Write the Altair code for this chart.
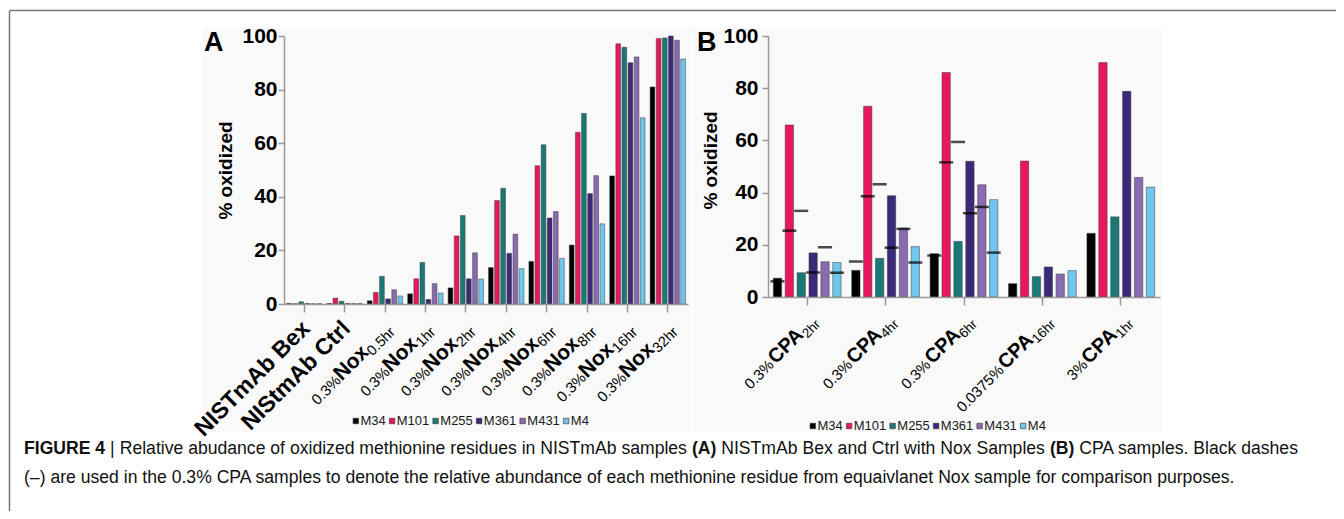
import altair as alt
import pandas as pd

FONT = "Liberation Sans"
GRAY = "#9a9a9a"

# ---------------- data ----------------
series = ["M34", "M101", "M255", "M361", "M431", "M4"]
colors = ["#000000", "#e9175e", "#1b7975", "#3b2877", "#8a6ab1", "#6fc6ef"]

# Panel A: NISTmAb Bex / Ctrl and 0.3% Nox time course
a_keys = ["Bex", "Ctrl", "Nox0.5", "Nox1", "Nox2", "Nox4", "Nox6", "Nox8", "Nox16", "Nox32"]
a_prefix = ["", "", "0.3%", "0.3%", "0.3%", "0.3%", "0.3%", "0.3%", "0.3%", "0.3%"]
a_main = ["NISTmAb Bex", "NIStmAb Ctrl", "Nox", "Nox", "Nox", "Nox", "Nox", "Nox", "Nox", "Nox"]
a_sub = ["", "", "0.5hr", "1hr", "2hr", "4hr", "6hr", "8hr", "16hr", "32hr"]
a_m34 = [0.2, 0.2, 1.2, 3.8, 6.0, 13.6, 15.9, 22.0, 47.8, 81.0]
a_m101 = [0.1, 2.2, 4.3, 9.4, 25.4, 38.6, 51.6, 64.1, 97.1, 99.1]
a_m255 = [0.8, 1.0, 10.3, 15.5, 33.0, 43.2, 59.4, 71.1, 95.8, 99.3]
a_m361 = [0.2, 0.2, 1.9, 1.7, 9.4, 18.9, 32.1, 41.2, 90.0, 100.0]
a_m431 = [0.1, 0.2, 5.3, 7.6, 19.1, 26.1, 34.5, 47.9, 92.2, 98.4]
a_m4 = [0.1, 0.2, 3.0, 4.1, 9.3, 13.2, 17.0, 29.9, 69.5, 91.4]

# Panel B: CPA samples
b_keys = ["CPA2", "CPA4", "CPA6", "CPA16", "CPA1"]
b_prefix = ["0.3%", "0.3%", "0.3%", "0.0375%", "3%"]
b_main = ["CPA", "CPA", "CPA", "CPA", "CPA"]
b_sub = ["2hr", "4hr", "6hr", "16hr", "1hr"]
b_m34 = [7.2, 10.2, 16.6, 5.1, 24.4]
b_m101 = [65.9, 73.1, 86.0, 52.1, 89.8]
b_m255 = [9.3, 14.8, 21.3, 7.8, 30.7]
b_m361 = [16.9, 38.8, 52.0, 11.5, 78.8]
b_m431 = [13.5, 26.4, 43.0, 8.8, 45.8]
b_m4 = [13.2, 19.3, 37.3, 10.1, 42.1]

# black dashes: equivalent Nox sample shown on the 0.3% CPA groups
dash_keys = ["CPA2", "CPA4", "CPA6"]
dash_src = ["Nox2", "Nox4", "Nox6"]

caption1 = [
    ("FIGURE 4", True),
    (" | ", False),
    ("Relative abudance of oxidized methionine residues in NISTmAb samples ", False),
    ("(A)", True),
    (" NISTmAb Bex and Ctrl with Nox Samples ", False),
    ("(B)", True),
    (" CPA samples. Black dashes", False),
]
caption2 = ("(\u2013) are used in the 0.3% CPA samples to denote the relative abundance of each "
            "methionine residue from equaivlanet Nox sample for comparison purposes.")

# ---------------- font metrics (Helvetica/Arial widths per 1000 em) ----------------
_up_r = dict(zip("ABCDEFGHIJKLMNOPQRSTUVWXYZ",
                 [667, 667, 722, 722, 667, 611, 778, 722, 278, 500, 667, 556, 833, 722, 778, 667, 778, 722, 667, 611, 722, 667, 944, 667, 667, 611]))
_lo_r = dict(zip("abcdefghijklmnopqrstuvwxyz",
                 [556, 556, 500, 556, 556, 278, 556, 556, 222, 222, 500, 222, 833, 556, 556, 556, 556, 333, 500, 278, 556, 500, 722, 500, 500, 500]))
_up_b = dict(zip("ABCDEFGHIJKLMNOPQRSTUVWXYZ",
                 [722, 722, 722, 722, 667, 611, 778, 722, 278, 556, 722, 611, 833, 722, 778, 667, 778, 722, 667, 611, 722, 667, 944, 667, 667, 611]))
_lo_b = dict(zip("abcdefghijklmnopqrstuvwxyz",
                 [556, 611, 556, 611, 556, 333, 611, 611, 278, 278, 556, 278, 889, 611, 611, 611, 611, 389, 556, 333, 611, 556, 778, 556, 556, 500]))
_misc = {" ": 278, "%": 889, "(": 333, ")": 333, ".": 278, ",": 278, "|": 270, "\u2013": 556}
W_REG = {**_up_r, **_lo_r, **_misc, **{d: 556 for d in "0123456789"}}
W_BOLD = {**_up_b, **_lo_b, **_misc, **{d: 556 for d in "0123456789"}}


def tw(s, size, bold=False):
    t = W_BOLD if bold else W_REG
    return sum(t.get(c, 556) for c in s) * size / 1000.0


def long_df(keys, cols):
    rows = []
    for s, vals in zip(series, cols):
        for k, v in zip(keys, vals):
            rows.append({"cat": k, "series": s, "value": v})
    return pd.DataFrame(rows)


a_cols = [a_m34, a_m101, a_m255, a_m361, a_m431, a_m4]
b_cols = [b_m34, b_m101, b_m255, b_m361, b_m431, b_m4]
dfA = long_df(a_keys, a_cols)
dfB = long_df(b_keys, b_cols)
dash_rows = []
for s, vals in zip(series, a_cols):
    for dk, src in zip(dash_keys, dash_src):
        dash_rows.append({"cat": dk, "series": s, "value": vals[a_keys.index(src)]})
dfD = pd.DataFrame(dash_rows)

one = pd.DataFrame({"k": [0]})
K = 0.70710678


def x_enc(keys):
    return alt.X("cat:N", scale=alt.Scale(domain=keys, paddingInner=0.09, paddingOuter=0.045),
                 axis=alt.Axis(labels=False, tickSize=8, tickColor=GRAY, tickWidth=1.5,
                               domainColor=GRAY, domainWidth=1.5, grid=False, title="",
                               zindex=1))


def y_enc(title_x, title_y, label_pad):
    return alt.Y("value:Q", scale=alt.Scale(domain=[0, 100], nice=False),
                 axis=alt.Axis(values=[0, 20, 40, 60, 80, 100], title="% oxidized",
                               titleFont=FONT, titleFontSize=19, titleFontWeight="bold",
                               titleColor="black", titleX=title_x, titleY=title_y, titleAngle=270,
                               titleAlign="center", titleBaseline="middle",
                               labelFont=FONT, labelFontSize=21, labelFontWeight="bold",
                               labelColor="black", labelPadding=label_pad, tickSize=6,
                               tickColor=GRAY, tickWidth=1.5, domainColor=GRAY, domainWidth=1.5,
                               grid=False, zindex=1))


def offset_enc(pad):
    return alt.XOffset("series:N", scale=alt.Scale(domain=series, paddingInner=pad,
                                                    paddingOuter=pad / 2))


def bars(df, xe, ye, off_pad):
    return alt.Chart(df).mark_bar(stroke="#3a3a3a", strokeWidth=0.5).encode(
        x=xe,
        xOffset=offset_enc(off_pad),
        y=ye,
        color=alt.Color("series:N", scale=alt.Scale(domain=series, range=colors), legend=None),
    )


def labels(keys, prefix, main, sub, xe, H, anc_sub, anc_main, s_pre, s_main, s_sub, raise_main):
    out = []
    for k, p, m, s in zip(keys, prefix, main, sub):
        if s:
            ax, ay = anc_sub
            parts = [(s, s_sub, False, 0.0), (m, s_main, True, -raise_main)]
            if p:
                parts.append((p, s_pre, False, -raise_main))
        else:
            ax, ay = anc_main
            parts = [(m, s_main + 2, True, 0.0)]
        shift = 0.0
        for txt, sz, bold, dyy in parts:
            out.append(
                alt.Chart(pd.DataFrame({"cat": [k]})).mark_text(
                    text=txt, font=FONT, fontSize=sz, fontWeight="bold" if bold else "normal",
                    align="right", baseline="alphabetic", angle=315,
                    dx=ax * K - shift, dy=ax * K + dyy, color="black",
                ).encode(x=xe, y=alt.value(H + ay))
            )
            shift += tw(txt, sz, bold)
    return out


def value_text(txt, x, y, size, bold=False, align="left", color="black", baseline="alphabetic"):
    return alt.Chart(one).mark_text(text=txt, font=FONT, fontSize=size,
                                    fontWeight="bold" if bold else "normal", align=align,
                                    baseline=baseline, color=color).encode(
        x=alt.value(x), y=alt.value(y))


def legend_layers(x0, yc):
    out = []
    cur = x0
    for s, c in zip(series, colors):
        out.append(alt.Chart(one).mark_square(size=30, fill=c, stroke="#333333", strokeWidth=0.6,
                                              opacity=1).encode(
            x=alt.value(cur + 2.8), y=alt.value(yc)))
        lx = cur + 7.5
        out.append(value_text(s, lx, yc, 13, color="#1a1a1a", baseline="middle"))
        cur = lx + tw(s, 13) + 3.5
    return out


def bg_rect(x1, x2, y1, y2):
    return alt.Chart(one).mark_rect(color="#f9f9f9").encode(
        x=alt.value(x1), x2=alt.value(x2), y=alt.value(y1), y2=alt.value(y2))


# ---------------- panel A ----------------
WA, HA = 404, 268
xA = x_enc(a_keys)
yA = y_enc(-59, 134, 1)
layersA = [bg_rect(-81, 408, -9, 396), bars(dfA, xA, yA, 0.23)]
layersA += labels(a_keys, a_prefix, a_main, a_sub, xA, HA, (11, 29), (7, 26), 15, 21, 14.5, 4)
layersA += legend_layers(69, 385)
layersA.append(value_text("A", -80, 15, 27, bold=True))

# figure frame
layersA.append(alt.Chart(one).mark_rule(color="#777777", strokeWidth=1.5).encode(
    x=alt.value(-274.5), x2=alt.value(1052), y=alt.value(-25.5)))
layersA.append(alt.Chart(one).mark_rule(color="#777777", strokeWidth=1.5).encode(
    x=alt.value(-274.5), y=alt.value(-25.5), y2=alt.value(490)))

# caption
CAP = 17.6
cx = -260.0
for txt, bold in caption1:
    lead = len(txt) - len(txt.lstrip(" "))
    stripped = txt.strip(" ")
    layersA.append(value_text(stripped, cx + tw(" " * lead, CAP), 418, CAP, bold=bold, color="#111111"))
    cx += tw(txt, CAP, bold)
layersA.append(value_text(caption2, -260, 447, CAP, color="#111111"))

panelA = alt.layer(*layersA).properties(width=WA, height=HA)

# ---------------- panel B ----------------
WB, HB = 392, 261
xB = x_enc(b_keys)
yB = y_enc(-58, 124, 4)
layersB = [bg_rect(-74, 393, -9, 396), bars(dfB, xB, yB, 0.30)]
layersB.append(alt.Chart(dfD).mark_tick(orient="horizontal", size=14, thickness=2.5, color="black").encode(
    x=xB, xOffset=offset_enc(0.30), y=yB))
layersB += labels(b_keys, b_prefix, b_main, b_sub, xB, HB, (14, 28), (7, 26), 15, 20, 13.5, 4)
layersB += legend_layers(42, 390)
layersB.append(value_text("B", -71, 15, 27, bold=True))
panelB = alt.layer(*layersB).properties(width=WB, height=HB)

chart = (
    alt.hconcat(panelA, panelB, spacing=80, bounds="flush")
    .resolve_scale(xOffset="independent", x="independent", y="independent")
    .properties(autosize=alt.AutoSizeParams(type="none"),
                padding={"left": 276, "top": 28, "right": 1052, "bottom": 475},
                background="white")
    .configure_view(stroke="transparent")
    .configure(font=FONT)
)

chart.save("out.html", embed_options={"renderer": "svg", "actions": False})
